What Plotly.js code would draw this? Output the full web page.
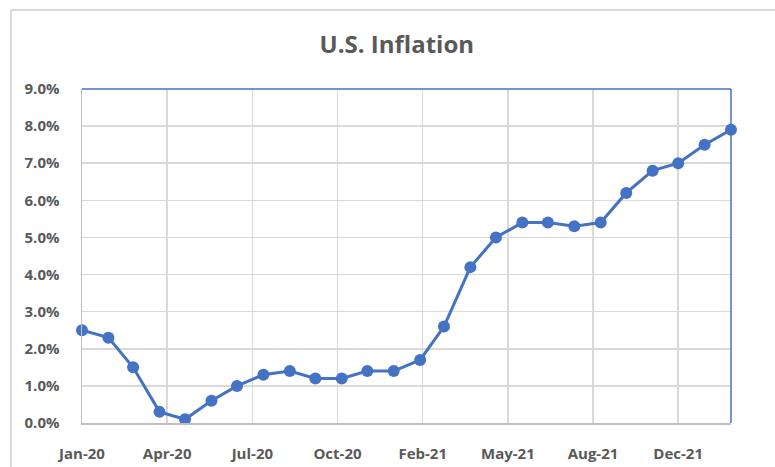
<!DOCTYPE html>
<html>
<head>
<meta charset="utf-8">
<script src="https://cdn.plot.ly/plotly-3.0.1.min.js"></script>
<style>
  html, body { margin: 0; padding: 0; background: #fff; }
  #grafico { width: 775px; height: 467px; }
</style>
</head>
<body>
<div id="grafico"></div>
<script>
// Datos: inflación mensual de EE. UU. (primer día de cada mes)
const meses = [
  '2020-01-01', '2020-02-01', '2020-03-01', '2020-04-01', '2020-05-01', '2020-06-01',
  '2020-07-01', '2020-08-01', '2020-09-01', '2020-10-01', '2020-11-01', '2020-12-01',
  '2021-01-01', '2021-02-01', '2021-03-01', '2021-04-01', '2021-05-01', '2021-06-01',
  '2021-07-01', '2021-08-01', '2021-09-01', '2021-10-01', '2021-11-01', '2021-12-01',
  '2022-01-01', '2022-02-01'
];
const inflacion = [
  2.5, 2.3, 1.5, 0.3, 0.1, 0.6,
  1.0, 1.3, 1.4, 1.2, 1.2, 1.4,
  1.4, 1.7, 2.6, 4.2, 5.0, 5.4,
  5.4, 5.3, 5.4, 6.2, 6.8, 7.0,
  7.5, 7.9
];
const rangoX = ['2020-01-01', '2022-02-01'];
const rangoY = [0, 9];

const azul = '#4472c4';
const gris = '#d9d9d9';
const texto = '#595959';

const trace = {
  x: meses,
  y: inflacion,
  type: 'scatter',
  mode: 'lines+markers',
  line: { color: azul, width: 3 },
  marker: { color: azul, size: 12 },
  cliponaxis: false,
  hoverinfo: 'skip'
};

// Marco del gráfico (bordes en coordenadas de papel)
const marco = [
  { type: 'line', xref: 'paper', yref: 'paper', x0: -0.1094, x1: 1.07, y0: 1.2365, y1: 1.2365, line: { color: gris, width: 2 } },
  { type: 'line', xref: 'paper', yref: 'paper', x0: -0.1094, x1: -0.1094, y0: 1.2365, y1: -0.14, line: { color: gris, width: 2 } },
  { type: 'line', xref: 'paper', yref: 'paper', x0: 0, x1: 1, y0: 1, y1: 1, line: { color: azul, width: 1.5 } },
  { type: 'line', xref: 'paper', yref: 'paper', x0: 1, x1: 1, y0: 0, y1: 1, line: { color: azul, width: 1.5 } }
];

const layout = {
  width: 775,
  height: 467,
  margin: { l: 82, r: 44, t: 89, b: 44 },
  paper_bgcolor: 'white',
  plot_bgcolor: 'white',
  showlegend: false,
  font: { family: 'Open Sans, sans-serif', color: texto },
  title: {
    text: 'U.S. Inflation',
    font: { size: 24, weight: 'bold', color: texto },
    x: 0.512,
    xanchor: 'center',
    y: 0.905,
    yanchor: 'middle'
  },
  xaxis: {
    type: 'date',
    range: rangoX,
    tick0: '2020-01-01',
    dtick: 100 * 86400000,
    tickformat: '%b-%y',
    showgrid: true,
    gridcolor: gris,
    gridwidth: 1.5,
    showline: true,
    linecolor: '#bfbfbf',
    linewidth: 1.5,
    ticks: '',
    ticklabelstandoff: 16,
    tickfont: { size: 15, weight: 'bold', color: texto },
    zeroline: false,
    fixedrange: true
  },
  yaxis: {
    range: rangoY,
    dtick: 1,
    tickformat: '.1f',
    ticksuffix: '%',
    showgrid: true,
    gridcolor: gris,
    gridwidth: 1.5,
    showline: true,
    linecolor: '#bfbfbf',
    linewidth: 1.5,
    ticks: '',
    ticklabelstandoff: 18,
    tickfont: { size: 15, weight: 'bold', color: texto },
    zeroline: false,
    fixedrange: true
  },
  shapes: marco
};

Plotly.newPlot('grafico', [trace], layout, { displayModeBar: false, staticPlot: true });
</script>
</body>
</html>
